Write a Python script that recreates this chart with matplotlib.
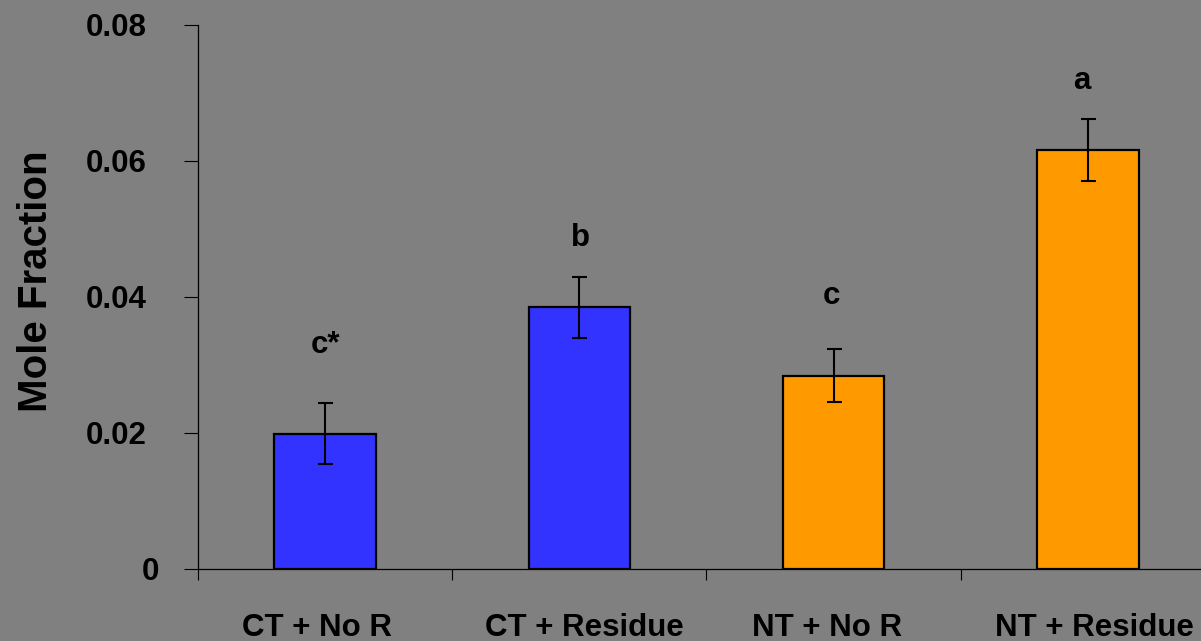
import matplotlib
matplotlib.use("Agg")
import matplotlib.pyplot as plt
from matplotlib.transforms import ScaledTranslation

categories = ["CT + No R", "CT + Residue", "NT + No R", "NT + Residue"]
values = [0.0199, 0.0385, 0.0284, 0.0616]
errors = [0.0045, 0.0045, 0.0039, 0.0046]
colors = ["#3333FF", "#3333FF", "#FF9900", "#FF9900"]
letters = ["c*", "b", "c", "a"]
letter_y = [0.0318, 0.0475, 0.0390, 0.0706]
yticks = [0, 0.02, 0.04, 0.06, 0.08]
ytick_labels = ["0", "0.02", "0.04", "0.06", "0.08"]

plt.rcParams['font.family'] = ['Liberation Sans', 'DejaVu Sans']
plt.rcParams['font.weight'] = 'bold'

W, H = 1201, 641
fig = plt.figure(figsize=(W / 100, H / 100), dpi=100)
fig.patch.set_facecolor("#808080")
ax = fig.add_axes([198 / W, (H - 569) / H, 1017 / W, 544 / H])
ax.set_facecolor("#808080")

x = list(range(len(categories)))
ax.bar(x, values, width=0.4, color=colors, edgecolor="black", linewidth=1.6, zorder=2)
ax.errorbar(x, values, yerr=errors, fmt="none", ecolor="black", elinewidth=1.5,
            capsize=5.4, capthick=1.5, zorder=3)

# small horizontal pixel nudges for letter labels (layout only)
letter_dx_px = [0, 1, -2, -6]
for xi, lab, ly, dx in zip(x, letters, letter_y, letter_dx_px):
    ax.text(xi, ly, lab, ha="center", va="baseline", fontsize=22.5, fontweight="bold",
            color="black",
            transform=ax.transData + ScaledTranslation(dx / 100, 0, fig.dpi_scale_trans))

ax.set_xlim(-0.5, 3.5)
ax.set_ylim(0, 0.08)

ax.set_yticks(yticks)
ax.set_yticklabels(ytick_labels, fontsize=22.5, fontweight="bold")
ax.tick_params(axis="y", direction="out", length=10, width=0.8, pad=27, colors="black")

ax.set_xticks(x)
ax.set_xticklabels(categories, fontsize=22.5, fontweight="bold")
ax.tick_params(axis="x", which="major", length=0, pad=32)
ax.set_xticks([-0.5, 0.5, 1.5, 2.5, 3.5], minor=True)
ax.tick_params(axis="x", which="minor", direction="out", length=8, width=0.8, colors="black")

for s in ["top", "right"]:
    ax.spines[s].set_visible(False)
for s in ["left", "bottom"]:
    ax.spines[s].set_linewidth(0.9)
    ax.spines[s].set_color("black")

ax.set_ylabel("Mole Fraction", fontsize=29, fontweight="bold", labelpad=0,
              va="baseline")
ax.yaxis.set_label_coords(-(198 - 47) / 1017, (569 - 281) / 544)

# layout nudges to match the reference placement of tick labels
fig.canvas.draw()
for lbl in ax.get_yticklabels():
    if lbl.get_text() == "0":
        lbl.set_transform(lbl.get_transform() + ScaledTranslation(0.13, 0, fig.dpi_scale_trans))
xlabel_dx_px = [-8, 5, -7, 7]
for lbl, dx in zip(ax.get_xticklabels(), xlabel_dx_px):
    lbl.set_transform(lbl.get_transform() + ScaledTranslation(dx / 100, 0, fig.dpi_scale_trans))

fig.savefig("out.png", dpi=100, facecolor=fig.get_facecolor())
